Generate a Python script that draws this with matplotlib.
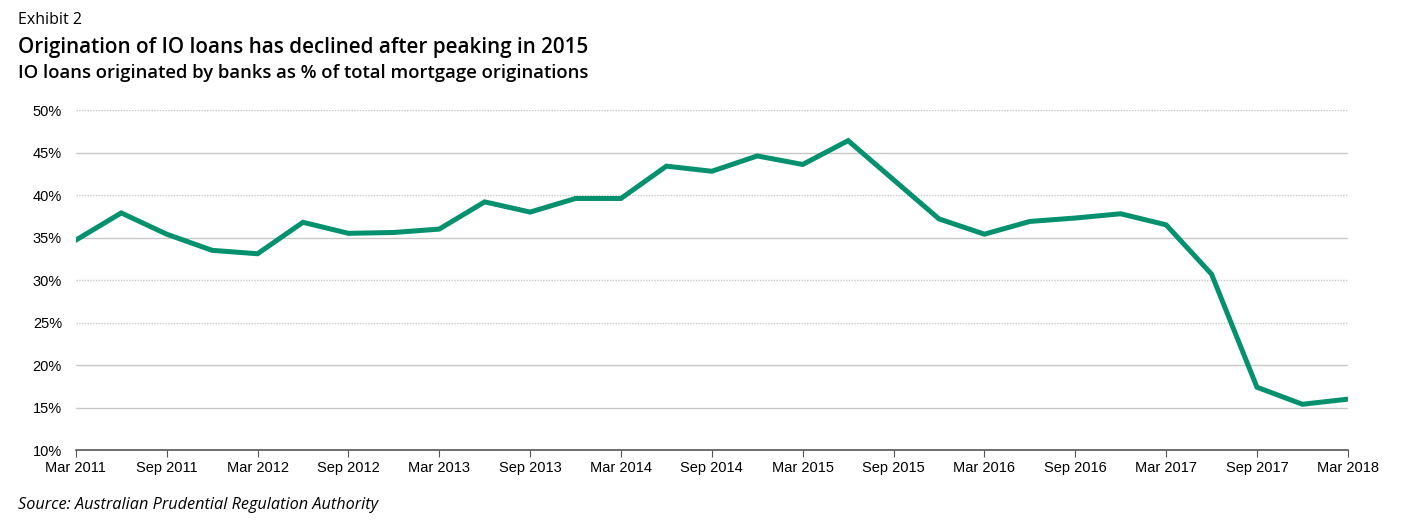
import matplotlib
matplotlib.use("Agg")
import matplotlib.pyplot as plt

# quarterly, Mar 2011 .. Mar 2018
quarters = ["Mar 2011", "Jun 2011", "Sep 2011", "Dec 2011",
            "Mar 2012", "Jun 2012", "Sep 2012", "Dec 2012",
            "Mar 2013", "Jun 2013", "Sep 2013", "Dec 2013",
            "Mar 2014", "Jun 2014", "Sep 2014", "Dec 2014",
            "Mar 2015", "Jun 2015", "Sep 2015", "Dec 2015",
            "Mar 2016", "Jun 2016", "Sep 2016", "Dec 2016",
            "Mar 2017", "Jun 2017", "Sep 2017", "Dec 2017",
            "Mar 2018"]
io_share = [34.7, 37.9, 35.4, 33.5, 33.1, 36.8, 35.5, 35.6,
            36.0, 39.2, 38.0, 39.6, 39.6, 43.4, 42.8, 44.6,
            43.6, 46.4, 41.8, 37.2, 35.4, 36.9, 37.3, 37.8,
            36.5, 30.7, 17.4, 15.4, 16.0]
yticks = [10, 15, 20, 25, 30, 35, 40, 45, 50]

fig = plt.figure(figsize=(14.04, 5.29), dpi=100)
ax = fig.add_axes([0.054, 0.149, 0.906, 0.643])

x = list(range(len(quarters)))
ax.plot(x, io_share, color="#05916d", lw=3.6, solid_joinstyle="miter", zorder=3)

ax.set_xlim(0, len(quarters) - 1)
ax.set_ylim(10, 50)
ax.set_yticks(yticks)
ax.set_yticklabels([f"{v}%" for v in yticks])
ax.set_xticks(x[::2])
ax.set_xticklabels(quarters[::2])

# light grid, alternating solid / dotted as in the original
for v in yticks[1:]:
    ls = "-" if v in (45, 35, 20, 15) else (0, (1, 1))
    ax.axhline(v, color="#c8c8c8", lw=1, ls=ls, zorder=1)

for s in ["top", "right", "left"]:
    ax.spines[s].set_visible(False)
ax.spines["bottom"].set_color("#555555")
ax.spines["bottom"].set_linewidth(1.2)
ax.tick_params(axis="x", length=5, color="#555555", labelsize=10.5, pad=3)
ax.tick_params(axis="y", length=0, labelsize=10.5, pad=10)
for lab in ax.get_xticklabels() + ax.get_yticklabels():
    lab.set_fontfamily("Liberation Sans")

fig.text(0.013, 0.955, "Exhibit 2", fontsize=11.5, family="Open Sans", va="baseline")
fig.text(0.013, 0.900, "Origination of IO loans has declined after peaking in 2015",
         fontsize=14.85, family="Open Sans", fontweight="semibold", va="baseline")
fig.text(0.013, 0.852, "IO loans originated by banks as % of total mortgage originations",
         fontsize=13.3, family="Open Sans", fontweight="semibold", va="baseline")
fig.text(0.013, 0.038, "Source: Australian Prudential Regulation Authority",
         fontsize=11.7, family="Open Sans", style="italic", va="baseline")

fig.savefig("out.png", dpi=100)
